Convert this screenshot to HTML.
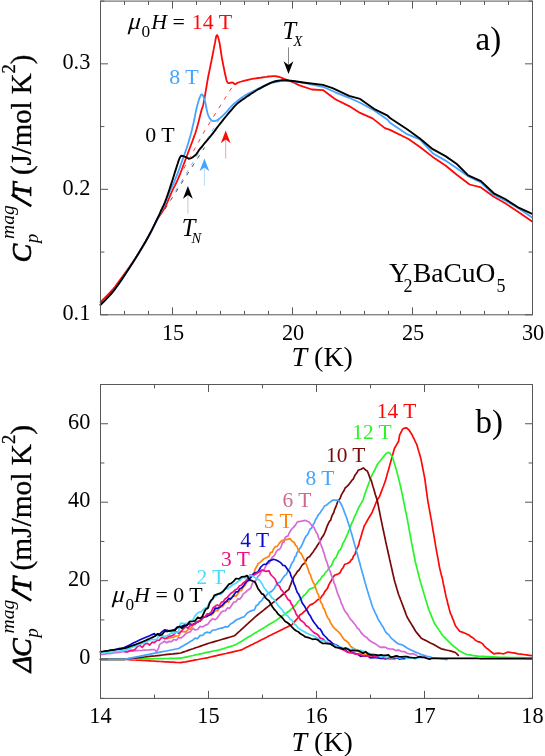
<!DOCTYPE html>
<html><head><meta charset="utf-8"><title>Y2BaCuO5 specific heat</title>
<style>
html,body{margin:0;padding:0;background:#fff;}
body{width:545px;height:756px;overflow:hidden;font-family:"Liberation Serif",serif;}
svg{display:block;will-change:transform;}
</style></head><body>
<svg width="545" height="756" viewBox="0 0 545 756">
<rect width="545" height="756" fill="#ffffff"/>
<path d="M165 209L204.5 147.5" stroke="#222" stroke-width="0.8" stroke-dasharray="4 6" fill="none"/>
<path d="M175.6 190.9L219 119.6" stroke="#44a4ff" stroke-width="0.8" stroke-dasharray="4 6" fill="none"/>
<path d="M183.8 168.7L205 130.2L229.8 90.6L233 86" stroke="#ff0808" stroke-width="0.8" stroke-dasharray="4 6" fill="none"/>
<polyline points="100.5,302.2 102.0,300.7 104.0,298.7 106.5,296.2 109.2,293.4 112.1,290.2 115.0,286.7 118.1,282.6 121.6,277.9 125.3,272.8 128.9,267.7 132.4,262.7 135.4,258.2 138.1,254.1 140.5,250.3 142.7,246.7 144.7,243.2 146.6,239.8 148.5,236.5 150.3,233.3 151.9,230.1 153.4,227.1 154.8,224.2 156.2,221.5 157.6,219.0 158.9,216.8 160.2,214.9 161.4,213.1 162.6,211.4 163.7,209.5 164.9,207.5 166.0,205.2 167.1,202.8 168.2,200.2 169.3,197.6 170.4,195.1 171.5,192.5 172.6,190.1 173.8,187.7 175.0,185.4 176.2,183.0 177.4,180.3 178.7,177.3 180.1,173.9 181.5,170.2 183.0,166.3 184.5,162.3 186.0,158.2 187.5,154.2 189.0,150.2 190.6,146.0 192.2,141.8 193.7,137.6 195.1,133.7 196.3,130.0 197.3,126.5 198.2,123.2 199.0,120.1 199.7,117.2 200.4,114.5 201.0,112.0 201.6,110.0 202.0,108.6 202.5,107.3 202.9,106.0 203.3,104.4 203.8,102.1 204.4,99.1 205.0,95.6 205.6,91.8 206.3,87.8 206.9,83.8 207.6,80.0 208.3,76.2 209.1,72.4 209.9,68.5 210.6,64.8 211.4,61.2 212.0,58.0 212.6,55.1 213.1,52.4 213.6,49.9 214.0,47.6 214.4,45.5 214.8,43.7 215.1,42.2 215.3,40.9 215.5,39.9 215.7,39.0 215.8,38.2 216.0,37.5 216.2,36.8 216.3,36.2 216.5,35.8 216.7,35.4 216.8,35.2 217.0,35.1 217.2,35.2 217.4,35.4 217.6,35.8 217.8,36.2 218.0,36.8 218.2,37.5 218.4,38.2 218.7,39.0 218.9,39.9 219.1,40.9 219.4,42.2 219.7,43.7 220.0,45.6 220.3,47.8 220.7,50.2 221.1,52.8 221.5,55.4 221.9,58.0 222.4,60.7 223.0,63.7 223.6,66.7 224.2,69.6 224.7,72.3 225.2,74.5 225.6,76.2 225.9,77.6 226.2,78.8 226.4,79.7 226.6,80.5 226.9,81.2 227.1,81.8 227.4,82.3 227.6,82.6 227.8,82.8 228.1,83.0 228.5,83.1 229.0,83.1 229.7,83.0 230.4,82.8 231.1,82.6 231.8,82.5 232.4,82.5 232.9,82.7 233.4,83.0 233.8,83.4 234.2,83.8 234.6,84.1 235.1,84.2 235.5,84.1 235.8,83.9 236.2,83.7 236.7,83.3 237.4,82.9 238.4,82.5 239.8,82.0 241.6,81.5 243.7,80.9 245.8,80.3 247.9,79.8 250.0,79.3 252.0,78.9 253.9,78.6 255.9,78.3 257.9,78.0 259.9,77.8 262.0,77.5 264.2,77.2 266.4,76.9 268.7,76.5 270.9,76.3 273.1,76.1 275.2,76.2 277.1,76.5 279.0,76.9 280.8,77.5 282.5,78.2 284.2,78.9 285.9,79.5 295.0,83.2 299.5,85.4 311.9,89.5 322.9,90.1 335.3,99.2 349.1,106.1 360.1,112.9 372.5,118.4 384.9,128.1 390.0,129.9 408.5,139.0 419.9,147.0 432.7,156.9 445.5,165.5 456.8,174.8 469.6,184.5 481.0,187.4 493.8,196.7 505.2,203.3 518.0,211.8 532.2,221.5" fill="none" stroke="#ff0808" stroke-width="1.8" stroke-linejoin="round" stroke-linecap="round" />
<polyline points="100.5,304.9 102.0,303.3 104.1,301.3 106.6,298.7 109.3,295.8 112.3,292.5 115.2,288.8 118.3,284.5 121.8,279.5 125.4,274.0 129.0,268.5 132.4,263.2 135.4,258.5 138.0,254.3 140.4,250.3 142.6,246.6 144.7,243.1 146.6,239.7 148.5,236.3 150.3,233.0 152.0,229.8 153.5,226.6 155.0,223.7 156.3,220.9 157.6,218.4 158.7,216.2 159.6,214.5 160.5,212.9 161.3,211.3 162.1,209.6 163.1,207.5 164.2,205.1 165.3,202.4 166.5,199.5 167.7,196.6 168.9,193.7 170.0,191.0 171.1,188.5 172.1,186.3 173.1,184.1 174.2,181.8 175.3,179.2 176.5,176.2 177.9,172.7 179.3,168.7 180.9,164.5 182.4,160.3 183.9,156.0 185.3,152.0 186.6,148.2 187.8,144.4 188.9,140.7 190.0,137.0 191.0,133.5 191.9,130.0 192.7,126.5 193.5,123.1 194.2,119.7 194.9,116.5 195.4,113.6 196.0,111.0 196.5,108.8 196.9,107.0 197.3,105.4 197.7,104.0 198.0,102.8 198.4,101.5 198.8,100.3 199.1,99.2 199.5,98.1 199.9,97.2 200.2,96.5 200.5,95.8 200.8,95.3 201.0,94.9 201.2,94.6 201.5,94.5 201.7,94.4 201.9,94.4 202.1,94.5 202.4,94.7 202.6,95.0 202.8,95.3 203.0,95.8 203.3,96.3 203.6,96.9 203.8,97.5 204.1,98.2 204.4,99.0 204.7,100.0 205.0,101.3 205.4,102.9 205.8,104.9 206.2,107.0 206.6,109.2 207.1,111.2 207.5,112.9 207.9,114.2 208.3,115.4 208.7,116.4 209.1,117.2 209.5,118.0 210.0,118.7 210.5,119.3 211.0,119.9 211.5,120.4 212.1,120.7 212.6,121.0 213.3,121.1 214.0,121.1 214.8,121.0 215.5,120.8 216.4,120.5 217.3,120.1 218.2,119.5 219.2,118.8 220.3,117.9 221.4,117.0 222.5,115.9 223.7,114.8 224.8,113.7 225.9,112.5 227.0,111.3 228.1,110.0 229.2,108.7 230.3,107.5 231.4,106.3 232.5,105.2 233.5,104.2 234.6,103.3 235.7,102.4 236.8,101.4 238.0,100.5 239.3,99.5 240.6,98.5 242.0,97.5 243.5,96.5 244.9,95.6 246.3,94.7 247.7,93.9 249.0,93.2 250.3,92.6 251.6,92.0 253.0,91.3 254.5,90.6 256.1,89.8 257.7,88.9 259.3,88.0 261.0,87.2 262.7,86.3 264.4,85.6 266.0,84.9 267.7,84.3 269.3,83.7 271.0,83.2 272.6,82.7 274.4,82.3 276.3,81.9 278.2,81.5 280.2,81.2 282.2,81.0 284.1,80.8 285.9,80.7 295.0,81.6 305.0,83.2 322.9,86.8 335.3,92.3 349.1,97.8 360.1,102.8 373.9,110.2 387.6,119.8 390.0,122.8 407.1,134.2 419.9,139.3 432.7,153.2 445.5,160.6 456.8,168.3 468.2,176.3 481.0,182.5 493.8,194.8 505.2,200.4 518.0,208.1 532.2,217.5" fill="none" stroke="#44a4ff" stroke-width="1.8" stroke-linejoin="round" stroke-linecap="round" />
<polyline points="100.5,304.9 102.0,303.3 104.1,301.3 106.6,298.7 109.3,295.8 112.3,292.5 115.2,288.8 118.3,284.5 121.8,279.5 125.4,274.0 129.0,268.5 132.4,263.2 135.4,258.5 138.0,254.3 140.4,250.3 142.6,246.6 144.7,243.1 146.6,239.7 148.5,236.3 150.3,232.9 152.0,229.6 153.6,226.4 155.1,223.3 156.4,220.6 157.6,218.2 158.5,216.3 159.2,214.8 159.8,213.6 160.2,212.5 160.7,211.3 161.3,210.0 162.0,208.6 162.6,207.2 163.3,205.8 164.0,204.3 164.8,202.6 165.6,200.5 166.5,198.0 167.5,195.2 168.5,192.2 169.6,189.0 170.6,185.9 171.6,182.8 172.6,179.7 173.6,176.5 174.6,173.2 175.6,170.1 176.5,167.3 177.2,165.0 177.8,163.2 178.2,161.9 178.6,160.8 178.9,160.0 179.2,159.2 179.5,158.5 179.8,157.8 180.1,157.2 180.4,156.7 180.7,156.3 181.0,156.0 181.5,155.8 182.1,155.8 182.8,156.0 183.6,156.2 184.5,156.6 185.3,156.9 186.0,157.2 186.6,157.5 187.2,157.8 187.8,158.2 188.4,158.5 189.0,158.6 189.7,158.6 190.5,158.4 191.4,158.0 192.4,157.4 193.4,156.8 194.3,156.1 195.2,155.3 196.0,154.5 196.6,153.7 197.3,152.7 198.0,151.7 198.8,150.4 200.0,148.9 201.5,147.1 203.2,145.0 205.1,142.7 207.1,140.4 209.1,138.0 211.0,135.6 212.8,133.3 214.7,130.9 216.5,128.4 218.3,126.0 220.2,123.6 222.0,121.3 223.9,118.9 225.9,116.5 227.8,114.2 229.7,111.9 231.5,109.8 233.0,108.1 234.2,106.7 235.2,105.7 236.0,104.9 236.7,104.1 237.5,103.4 238.5,102.6 239.7,101.7 240.9,100.7 242.3,99.8 243.6,98.9 245.0,98.0 246.2,97.1 247.3,96.3 248.4,95.6 249.4,94.9 250.4,94.2 251.5,93.5 252.8,92.7 254.3,91.8 255.8,90.8 257.5,89.8 259.2,88.8 261.0,87.8 262.8,86.8 264.6,85.8 266.6,84.8 268.5,83.9 270.5,82.9 272.5,82.1 274.4,81.5 276.4,81.0 278.3,80.7 280.3,80.4 282.2,80.3 284.1,80.2 285.9,80.2 295.0,81.3 305.0,82.7 322.9,84.9 332.6,88.2 349.1,95.9 360.1,98.9 373.9,108.8 387.6,115.7 390.0,118.0 407.1,129.3 419.9,138.4 432.7,149.2 445.5,156.1 456.8,164.0 468.2,175.4 481.0,181.1 493.8,193.3 505.2,199.0 518.0,207.3 532.2,213.8" fill="none" stroke="#000000" stroke-width="1.9" stroke-linejoin="round" stroke-linecap="round" />
<rect x="100.5" y="1.1" width="432.0" height="313.7" fill="none" stroke="#585858" stroke-width="1"/>
<path d="M100.50 314.8V310.9M100.50 1.1V5.0M124.50 314.8V310.9M124.50 1.1V5.0M148.50 314.8V310.9M148.50 1.1V5.0M172.50 314.8V307.3M172.50 1.1V8.6M196.50 314.8V310.9M196.50 1.1V5.0M220.50 314.8V310.9M220.50 1.1V5.0M244.50 314.8V310.9M244.50 1.1V5.0M268.50 314.8V310.9M268.50 1.1V5.0M292.50 314.8V307.3M292.50 1.1V8.6M316.50 314.8V310.9M316.50 1.1V5.0M340.50 314.8V310.9M340.50 1.1V5.0M364.50 314.8V310.9M364.50 1.1V5.0M388.50 314.8V310.9M388.50 1.1V5.0M412.50 314.8V307.3M412.50 1.1V8.6M436.50 314.8V310.9M436.50 1.1V5.0M460.50 314.8V310.9M460.50 1.1V5.0M484.50 314.8V310.9M484.50 1.1V5.0M508.50 314.8V310.9M508.50 1.1V5.0M532.50 314.8V307.3M532.50 1.1V8.6" stroke="#585858" stroke-width="1" fill="none"/>
<path d="M100.5 314.80H108.0M532.5 314.80H525.0M100.5 252.06H104.4M532.5 252.06H528.6M100.5 189.32H108.0M532.5 189.32H525.0M100.5 126.58H104.4M532.5 126.58H528.6M100.5 63.84H108.0M532.5 63.84H525.0M100.5 1.10H104.4M532.5 1.10H528.6" stroke="#585858" stroke-width="1" fill="none"/>
<path d="M187.9 194.1V213.6" stroke="#c8c8c8" stroke-width="1" fill="none"/>
<path d="M187.9 186.1L192.8 198.7L187.9 194.9L183.0 198.7Z" fill="#000000"/>
<path d="M204.4 166.6V185.8" stroke="#b9dcff" stroke-width="1" fill="none"/>
<path d="M204.4 158.6L209.3 171.2L204.4 167.4L199.5 171.2Z" fill="#44a4ff"/>
<path d="M225.7 138.6V158.6" stroke="#ff9a9a" stroke-width="1" fill="none"/>
<path d="M225.7 130.6L230.6 143.2L225.7 139.4L220.8 143.2Z" fill="#ff0808"/>
<path d="M288.5 65.9V47.4" stroke="#8a8a8a" stroke-width="1" fill="none"/>
<path d="M288.5 73.9L293.4 61.3L288.5 65.1L283.6 61.3Z" fill="#000000"/>
<text x="173.1" y="340.2" font-size="22.3" fill="#000" text-anchor="middle" font-family="Liberation Serif, serif" >15</text>
<text x="293.1" y="340.2" font-size="22.3" fill="#000" text-anchor="middle" font-family="Liberation Serif, serif" >20</text>
<text x="413.1" y="340.2" font-size="22.3" fill="#000" text-anchor="middle" font-family="Liberation Serif, serif" >25</text>
<text x="533.1" y="340.2" font-size="22.3" fill="#000" text-anchor="middle" font-family="Liberation Serif, serif" >30</text>
<text x="90.3" y="320.0" font-size="22.3" fill="#000" text-anchor="end" font-family="Liberation Serif, serif" >0.1</text>
<text x="90.3" y="194.5" font-size="22.3" fill="#000" text-anchor="end" font-family="Liberation Serif, serif" >0.2</text>
<text x="90.3" y="69.0" font-size="22.3" fill="#000" text-anchor="end" font-family="Liberation Serif, serif" >0.3</text>
<text x="291.5" y="366.2" font-size="28" fill="#000" text-anchor="start" font-family="Liberation Serif, serif" ><tspan font-style="italic">T</tspan> (K)</text>
<g transform="translate(31.0,262.0) rotate(-90)" font-family="Liberation Serif, serif"><text x="-0.5" y="0" font-size="28" font-style="italic" stroke="#000" stroke-width="0.75">C</text><text x="19.1" y="6.7" font-size="18.5" font-style="italic">p</text><text x="23" y="-17" font-size="19.6" font-style="italic">mag</text><path d="M55.9 0.3L67.3 -19.3" stroke="#000" stroke-width="2.6" fill="none"/><text x="63.8" y="0" font-size="28" font-style="italic" stroke="#000" stroke-width="0.75">T</text><text x="87.0" y="0" font-size="28.8" stroke="#000" stroke-width="0.3">(J/mol K<tspan font-size="18.5" dy="-16.5">2</tspan><tspan dy="16.5">)</tspan></text></g>
<text transform="translate(126.9,28.8) skewX(-15)" font-size="24" font-family="Liberation Serif, serif">&#956;</text>
<text x="141.5" y="36.7" font-size="17.3" fill="#000" text-anchor="start" font-family="Liberation Serif, serif" >0</text>
<text x="151.3" y="28.8" font-size="21.9" fill="#000" text-anchor="start" font-family="Liberation Serif, serif" ><tspan font-style="italic">H</tspan> = <tspan fill="#ff0808" dx="1.4">14 T</tspan></text>
<text x="169.3" y="84.4" font-size="21.9" fill="#44a4ff" text-anchor="start" font-family="Liberation Serif, serif" >8 T</text>
<text x="145.2" y="141.7" font-size="21.9" fill="#000" text-anchor="start" font-family="Liberation Serif, serif" >0 T</text>
<text x="282.6" y="38.8" font-size="24.5" fill="#000" text-anchor="start" font-family="Liberation Serif, serif" font-style="italic">T</text>
<text x="293.4" y="45.8" font-size="14.5" fill="#000" text-anchor="start" font-family="Liberation Serif, serif" font-style="italic">X</text>
<text x="181.8" y="236.2" font-size="24.5" fill="#000" text-anchor="start" font-family="Liberation Serif, serif" font-style="italic">T</text>
<text x="191.4" y="243.3" font-size="14.5" fill="#000" text-anchor="start" font-family="Liberation Serif, serif" font-style="italic">N</text>
<text x="475.5" y="50.0" font-size="33" fill="#000" text-anchor="start" font-family="Liberation Serif, serif" >a)</text>
<text x="389.0" y="281.8" font-size="27.5" fill="#000" text-anchor="start" font-family="Liberation Serif, serif" >Y</text>
<text x="403.4" y="292.3" font-size="18" fill="#000" text-anchor="start" font-family="Liberation Serif, serif" >2</text>
<text x="412.9" y="281.8" font-size="27.5" fill="#000" text-anchor="start" font-family="Liberation Serif, serif" >BaCuO</text>
<text x="496.5" y="292.3" font-size="18" fill="#000" text-anchor="start" font-family="Liberation Serif, serif" >5</text>
<polyline points="100.5,659.3 103.1,659.3 105.8,659.3 108.4,659.3 111.0,659.3 113.7,659.3 116.3,659.3 118.9,659.3 121.6,659.3 124.2,659.3 126.8,659.5 129.3,659.6 131.9,659.8 134.5,659.9 137.0,660.1 139.6,660.2 142.2,660.4 144.7,660.5 147.3,660.7 149.9,660.8 152.4,661.0 155.0,661.2 157.6,661.3 160.2,661.5 162.7,661.6 165.3,661.8 167.9,661.9 170.4,662.1 173.0,662.2 175.6,662.4 178.1,662.5 180.7,662.7 183.2,662.2 185.7,661.8 188.1,661.3 190.6,660.8 193.1,660.4 195.6,659.9 198.1,659.5 200.6,659.0 203.0,658.5 205.5,658.1 208.0,657.6 210.6,657.0 213.1,656.4 215.7,655.8 218.3,655.2 220.8,654.6 223.4,654.0 226.0,653.5 228.6,652.9 231.1,652.3 233.7,651.7 236.3,651.1 238.8,650.5 241.4,649.9 243.7,648.8 246.0,647.6 248.3,646.5 250.5,645.3 252.8,644.2 255.1,643.0 257.4,641.9 259.7,640.7 262.0,639.6 264.3,638.4 266.6,637.3 268.8,636.1 271.1,635.0 273.4,633.8 275.7,632.7 278.0,631.6 280.3,630.4 282.6,629.3 285.0,628.1 287.3,627.0 289.6,625.8 291.9,624.7 293.9,622.4 296.0,620.0 298.1,617.7 300.1,614.8 302.1,613.7 304.1,611.6 306.2,610.0 308.2,607.0 310.2,604.9 312.7,603.9 315.2,602.1 317.8,599.7 320.3,598.6 321.8,596.1 323.3,594.7 324.8,591.6 326.3,589.8 327.5,588.4 328.7,585.1 330.0,582.6 331.2,581.0 332.4,578.3 334.5,575.3 337.1,574.4 339.8,573.1 341.5,569.6 343.1,567.7 344.8,564.2 347.4,563.5 349.9,562.0 351.1,560.0 352.4,559.0 353.6,555.8 354.9,554.5 355.9,551.0 356.9,548.7 358.0,546.6 359.0,543.7 359.7,540.3 360.5,538.5 361.2,536.0 361.9,533.6 362.6,531.1 363.4,528.7 364.1,526.2 365.5,523.9 366.8,521.5 368.1,519.2 369.5,516.8 370.9,514.5 372.2,512.1 373.2,509.7 374.2,507.3 375.2,504.8 376.2,502.4 377.2,500.0 379.4,496.8 380.4,494.1 381.4,491.4 382.4,488.7 383.5,486.0 384.5,483.3 385.5,480.6 386.2,478.0 386.9,475.4 387.6,472.8 388.4,470.3 389.1,467.7 389.8,465.1 390.5,462.5 391.3,459.7 392.1,456.8 392.9,454.0 393.7,451.1 394.5,448.3 395.9,446.0 397.2,443.6 398.6,441.3 399.1,438.2 399.6,435.2 401.1,432.2 402.6,429.2 404.5,428.1 406.6,427.8 409.0,430.0 411.7,434.2 412.9,436.7 414.2,439.2 415.4,441.8 416.7,444.3 417.5,447.1 418.3,449.9 419.2,452.8 420.0,455.6 420.8,458.4 421.3,460.9 421.8,463.4 422.3,466.0 422.8,468.5 423.3,471.0 423.8,473.6 424.3,476.1 424.8,478.6 425.2,481.3 425.5,484.0 425.9,486.6 426.2,489.3 426.6,492.0 427.0,494.6 427.3,497.3 427.7,500.0 428.1,502.5 428.6,504.9 429.0,507.4 429.5,509.9 429.9,512.3 430.4,514.8 430.8,517.3 431.3,519.7 431.7,522.2 432.1,524.9 432.6,527.6 433.0,530.3 433.5,533.0 433.9,535.6 434.4,538.3 434.8,541.0 435.3,543.7 435.7,546.4 436.2,548.9 436.6,551.3 437.1,553.8 437.5,556.3 438.0,558.7 438.4,561.2 438.9,563.7 439.3,566.1 439.8,568.6 440.5,571.5 441.2,574.4 441.9,576.8 442.6,579.6 443.2,583.2 443.8,585.7 444.3,588.2 444.9,591.3 445.5,593.9 446.1,596.9 446.7,599.1 447.3,601.1 447.9,604.3 448.5,606.0 449.1,608.6 449.7,610.8 450.6,613.9 451.6,615.6 452.5,618.4 453.5,620.4 454.4,623.1 455.4,625.7 457.5,628.4 459.7,631.2 462.1,632.1 464.4,633.0 466.8,634.1 468.9,635.0 471.1,636.8 473.2,638.0 475.3,640.1 477.7,641.6 480.0,642.1 482.4,643.6 484.3,646.1 486.2,647.9 488.1,649.2 491.0,651.8 493.8,653.8 496.3,653.3 498.8,653.2 501.3,653.5 503.8,653.8 508.0,652.0 511.6,652.6 515.1,653.1 518.0,653.9 520.8,654.2 523.7,654.5 526.5,654.9 529.4,655.3 532.2,655.7" fill="none" stroke="#ff0808" stroke-width="1.7" stroke-linejoin="round" stroke-linecap="round" />
<polyline points="100.5,659.3 103.1,659.3 105.8,659.3 108.4,659.3 111.0,659.3 113.7,659.3 116.3,659.3 118.9,659.3 121.6,659.3 124.2,659.3 126.8,659.2 129.3,659.2 131.9,659.1 134.5,659.1 137.0,659.0 139.6,659.0 142.2,658.9 144.7,658.9 147.3,658.9 149.9,658.8 152.4,658.8 155.0,658.7 157.6,658.6 160.2,658.6 162.7,658.6 165.3,658.5 167.9,658.5 170.4,658.4 173.0,658.4 175.6,658.3 178.1,658.2 180.7,658.2 183.2,657.7 185.7,657.1 188.1,656.6 190.6,656.0 193.1,655.5 195.6,654.9 198.1,654.4 200.6,653.8 203.0,653.3 205.5,652.7 208.0,652.2 210.8,651.6 213.6,651.0 216.4,650.5 219.2,649.9 221.9,649.1 224.6,648.2 227.3,647.4 230.0,646.6 232.7,645.7 235.4,644.9 237.6,643.5 239.9,642.2 242.1,640.9 244.4,639.5 246.6,638.1 248.8,636.8 251.1,635.5 253.3,634.1 255.6,632.8 257.8,631.4 260.0,630.0 262.3,628.7 264.5,627.4 266.7,626.0 269.0,624.6 271.2,623.3 273.5,622.0 275.7,620.6 278.1,618.9 280.4,617.2 282.8,615.5 285.2,613.9 287.5,612.2 289.9,610.5 291.9,608.4 294.0,606.7 296.0,604.6 298.1,601.8 300.1,599.5 301.9,597.9 303.7,595.5 305.6,594.1 307.4,591.7 309.2,589.4 311.7,588.3 314.2,587.5 315.7,584.6 317.2,583.1 318.8,580.6 320.3,579.7 322.1,576.3 323.8,575.4 325.6,572.1 327.1,571.1 328.6,568.5 330.2,566.6 331.7,565.3 333.1,561.4 334.5,558.8 336.0,557.5 337.4,554.3 338.8,550.9 340.2,549.8 341.6,547.1 343.0,543.1 344.4,541.0 345.8,537.9 346.8,535.7 347.8,533.6 348.8,530.4 349.9,528.7 350.9,525.2 351.9,522.8 352.9,521.3 353.9,518.1 355.2,515.3 356.4,512.8 357.7,509.8 359.0,506.8 360.4,504.7 361.7,502.3 363.1,500.0 363.8,497.6 364.6,495.1 365.3,492.7 366.3,490.0 367.3,487.3 368.3,484.6 369.3,482.0 370.3,479.3 371.3,476.6 372.5,474.2 373.7,471.8 375.0,469.3 376.2,466.9 377.4,464.5 379.1,462.2 380.9,459.9 382.6,457.7 384.4,455.4 386.8,453.0 388.5,452.4 390.5,453.8 392.5,457.4 393.3,460.0 394.1,462.6 395.0,465.3 395.8,467.9 396.6,470.5 397.3,473.2 397.9,475.9 398.6,478.6 399.3,481.3 399.9,484.0 400.6,486.7 401.2,489.4 401.7,492.0 402.3,494.7 402.8,497.3 403.4,500.0 403.9,502.5 404.4,505.1 404.9,507.6 405.4,510.1 406.0,512.6 406.5,515.2 407.0,517.7 407.5,520.2 407.9,522.7 408.4,525.1 408.8,527.6 409.3,530.1 409.7,532.5 410.2,535.0 410.6,537.5 411.1,539.9 411.5,542.4 412.0,544.9 412.5,547.5 413.0,550.0 413.5,552.5 414.0,555.0 414.5,557.5 415.0,560.1 415.5,562.6 416.1,565.1 416.8,567.6 417.4,570.1 418.0,572.5 418.6,575.0 419.3,577.5 419.9,580.0 420.7,582.8 421.6,585.7 422.4,588.5 423.3,591.4 424.1,594.2 425.0,597.0 425.8,599.9 426.7,602.7 427.5,605.6 428.4,608.4 429.3,610.8 430.3,613.2 431.2,615.5 432.2,617.9 433.2,620.3 434.1,622.7 435.5,624.8 436.9,627.0 438.4,629.1 439.8,631.2 441.2,633.4 442.6,635.5 444.7,637.6 446.9,639.8 449.0,641.9 451.1,644.0 453.2,645.8 455.4,647.5 457.6,649.3 459.7,651.1 462.1,652.2 464.4,653.4 466.8,654.5 469.6,654.9 472.5,655.4 475.4,655.8 478.2,656.2 480.8,656.3 483.3,656.4 485.9,656.6 488.4,656.7 491.0,656.8 493.6,656.9 496.1,657.0 498.7,657.2 501.2,657.3 503.8,657.4 506.4,657.4 509.0,657.5 511.5,657.5 514.1,657.6 516.7,657.6 519.3,657.7 521.9,657.7 524.5,657.8 527.0,657.8 529.6,657.9 532.2,657.9" fill="none" stroke="#28f528" stroke-width="1.7" stroke-linejoin="round" stroke-linecap="round" />
<polyline points="100.5,659.3 103.1,659.3 105.8,659.3 108.4,659.3 111.0,659.3 113.7,659.3 116.3,659.3 118.9,659.3 121.6,659.3 124.2,659.3 126.8,659.0 129.3,658.7 131.9,658.4 134.5,658.2 137.0,657.9 139.6,657.6 142.2,657.3 144.7,657.0 147.3,656.7 149.9,656.4 152.4,656.1 155.0,655.9 157.6,655.6 160.2,655.3 162.7,655.0 165.3,654.7 167.9,654.4 170.4,654.1 173.0,653.9 175.6,653.6 178.1,653.3 180.7,653.0 183.2,652.1 185.7,651.3 188.1,650.4 190.6,649.5 193.1,648.7 195.6,647.8 198.1,647.0 200.6,646.1 203.0,645.2 205.5,644.4 208.0,643.5 210.4,642.8 212.8,642.1 215.2,641.4 217.6,640.7 220.0,640.0 222.4,639.3 224.8,638.6 227.2,637.9 229.6,637.2 232.0,636.5 234.4,635.8 236.3,634.1 238.2,632.3 240.2,630.6 242.1,628.8 244.0,627.1 245.9,625.3 247.8,623.6 249.7,621.8 251.7,620.1 253.6,618.3 255.5,616.6 257.5,615.0 259.5,613.4 261.6,611.8 263.6,610.2 265.6,608.5 267.6,606.9 269.6,605.3 271.7,603.7 273.7,602.1 275.7,600.5 277.9,598.6 280.1,596.8 282.2,595.0 284.4,593.1 286.6,591.2 288.8,589.5 289.8,586.6 290.9,584.2 291.9,580.9 293.0,579.2 294.0,576.5 295.7,574.2 297.4,571.5 299.1,570.0 300.7,567.4 302.3,564.9 303.9,563.7 305.5,561.5 307.5,557.7 309.5,556.7 311.5,554.0 313.5,551.4 314.9,549.1 316.2,547.5 317.6,545.0 318.9,543.2 320.2,540.9 321.6,537.9 322.7,536.5 323.9,534.5 325.0,532.1 326.1,529.1 327.3,525.8 328.4,523.4 329.6,521.2 330.7,520.1 331.7,516.6 332.7,514.3 333.7,512.7 334.7,509.3 335.7,507.2 336.7,504.6 337.7,501.5 338.9,500.1 340.2,498.3 341.4,494.9 342.6,492.8 343.9,490.8 345.1,488.0 346.7,486.7 348.3,485.2 350.0,482.9 351.6,480.7 353.2,479.2 354.9,475.3 356.5,473.3 358.2,470.3 361.0,469.2 363.3,467.9 365.5,469.9 367.3,471.0 368.6,474.1 370.0,478.1 371.3,480.6 372.1,483.4 372.9,486.3 373.8,489.1 374.6,492.0 375.4,494.8 376.3,497.4 377.2,500.0 377.7,502.5 378.2,505.1 378.7,507.6 379.2,510.1 379.7,512.6 380.2,515.2 380.7,517.7 381.2,520.2 381.8,522.9 382.3,525.6 382.9,528.3 383.5,531.0 384.0,533.6 384.6,536.3 385.2,539.0 385.7,541.7 386.3,544.4 386.9,546.9 387.4,549.3 388.0,551.8 388.5,554.3 389.1,556.7 389.6,559.2 390.2,561.7 390.7,564.1 391.3,566.6 391.9,569.3 392.5,572.0 393.1,574.6 393.7,577.3 394.3,580.0 395.1,582.8 396.0,585.7 396.8,588.5 397.7,591.4 398.5,594.2 399.5,596.7 400.4,599.3 401.4,601.8 402.3,604.3 403.3,606.9 404.2,609.4 405.2,611.9 406.1,614.5 407.1,617.0 408.5,619.4 409.9,621.7 411.4,624.1 412.8,626.5 414.2,628.8 415.6,631.2 417.5,633.6 419.4,635.9 421.3,638.3 423.6,639.4 425.9,640.6 428.1,641.7 430.4,642.9 432.7,644.0 435.5,645.6 438.4,647.2 441.2,648.8 443.7,649.4 446.1,650.0 448.6,650.5 451.1,651.1 455.4,652.5 458.3,655.4" fill="none" stroke="#7a0808" stroke-width="1.7" stroke-linejoin="round" stroke-linecap="round" />
<polyline points="100.5,659.3 103.1,659.3 105.8,659.3 108.4,659.3 111.0,659.3 113.7,659.3 116.3,659.3 118.9,659.3 121.6,659.3 124.2,659.3 126.7,658.8 129.2,658.3 131.6,657.8 134.1,657.3 136.6,656.8 139.1,656.4 141.5,655.9 144.0,655.4 146.5,654.9 149.0,654.4 151.4,653.9 153.9,653.4 156.4,652.9 158.9,652.4 161.4,651.9 163.8,651.4 166.3,651.0 168.8,650.5 171.3,650.0 173.7,649.5 176.2,649.0 178.7,648.5 181.0,647.1 183.4,645.7 185.7,644.3 188.0,643.0 190.3,641.6 192.7,640.2 195.0,638.1 197.5,638.7 200.1,635.4 202.6,635.5 205.1,632.8 207.6,632.2 210.1,632.9 212.7,630.0 215.2,630.0 217.7,629.0 220.2,628.4 222.8,627.9 225.3,626.6 227.9,626.9 230.5,624.0 233.2,622.5 236.0,620.0 238.8,618.9 241.5,617.6 244.2,616.7 247.0,613.3 249.8,611.4 252.5,610.4 254.3,610.0 256.2,605.6 258.0,604.8 259.8,602.0 261.7,600.6 263.5,597.6 265.3,596.6 267.2,594.3 269.0,592.8 271.8,591.2 274.5,588.2 276.3,584.9 278.2,582.6 280.0,582.5 282.5,578.6 285.0,575.2 286.3,574.8 287.5,571.6 288.8,569.8 290.0,567.9 291.3,564.3 292.5,562.1 293.6,561.1 294.8,557.0 295.9,556.2 297.1,552.3 298.2,551.4 299.4,549.1 300.8,547.3 302.1,544.7 303.4,541.6 304.8,538.5 306.1,536.0 307.5,534.6 308.8,532.2 310.2,528.8 311.5,528.4 312.8,525.1 314.2,523.2 315.5,519.7 317.0,517.4 318.5,514.5 320.1,512.9 321.6,510.4 323.1,508.4 324.6,505.9 326.8,504.9 329.0,502.9 332.7,500.2 335.2,500.2 337.7,500.2 339.8,502.0 341.8,505.2 342.8,507.8 343.8,510.4 344.8,513.1 345.8,515.7 346.8,518.3 347.6,521.0 348.5,523.7 349.4,526.4 350.2,529.1 351.0,531.8 351.9,534.5 352.6,537.1 353.3,539.7 354.0,542.3 354.8,544.9 355.5,547.5 356.2,550.1 356.9,552.7 357.6,555.2 358.2,557.6 358.9,560.1 359.6,562.6 360.3,565.1 360.9,567.5 361.6,570.0 362.3,572.6 363.1,575.2 363.8,577.8 364.5,580.4 365.2,583.0 366.0,585.6 366.7,588.2 367.4,590.6 368.2,593.0 368.9,595.4 369.7,597.8 370.4,600.1 371.2,602.5 371.9,604.9 372.7,607.3 373.9,609.9 375.1,612.6 376.4,615.2 377.6,617.9 378.8,620.5 380.3,622.6 381.9,625.4 383.4,627.6 384.9,630.7 386.9,633.4 388.9,634.9 390.9,637.9 393.3,639.9 395.7,642.0 398.5,644.0 401.4,644.6 404.2,646.0 407.1,648.0 409.9,649.4 412.7,650.8 415.6,652.1 418.4,653.3 421.3,654.6 424.1,655.4 427.0,656.3 429.5,656.7 432.0,657.5 434.5,657.9 436.9,658.2 439.4,658.5 441.9,658.9 444.4,659.2 446.9,659.6" fill="none" stroke="#44a4ff" stroke-width="1.7" stroke-linejoin="round" stroke-linecap="round" />
<polyline points="100.5,654.6 103.1,654.3 105.8,653.9 108.4,653.6 111.0,653.3 113.7,652.9 116.3,652.6 118.9,652.3 121.6,651.9 124.2,651.6 126.7,651.4 129.2,651.2 131.8,651.1 134.3,650.9 136.8,650.7 139.3,650.5 141.9,650.4 144.4,650.2 146.9,650.0 149.4,649.9 152.0,649.7 154.5,649.5 156.5,651.6 157.5,650.3 158.6,648.0 159.6,644.4 162.0,642.9 164.4,641.2 166.8,642.8 169.1,641.3 171.5,641.6 173.9,639.5 176.3,640.1 178.7,637.6 181.1,638.0 183.4,636.2 185.8,633.6 188.2,632.5 190.5,631.6 192.9,628.3 195.0,629.9 197.5,629.5 200.1,626.4 202.6,627.0 205.1,625.4 207.6,624.4 210.1,621.1 212.7,618.7 215.2,619.7 217.2,618.1 219.2,615.2 221.3,612.3 223.3,611.0 225.3,611.0 227.4,607.9 229.6,608.4 231.7,605.2 233.9,602.0 236.0,601.8 237.8,598.9 239.7,599.1 241.5,597.2 243.3,593.9 245.2,592.6 247.0,590.9 248.8,589.5 250.7,588.2 252.5,583.0 254.3,581.6 256.2,579.9 258.0,576.3 259.8,574.8 261.7,570.4 263.5,570.7 265.3,567.2 267.2,563.5 269.0,563.3 270.8,559.6 272.7,556.8 274.5,555.4 276.2,551.8 277.9,549.7 279.5,549.7 281.2,546.7 282.6,542.0 283.9,542.5 285.2,537.5 286.6,536.4 287.9,536.2 289.3,532.9 291.3,529.5 293.4,527.4 295.4,525.1 297.4,521.9 301.5,521.2 305.5,520.4 309.0,522.0 312.5,526.2 313.8,527.0 315.1,529.8 316.3,532.6 317.6,534.3 318.6,538.1 319.6,539.7 320.6,543.7 321.6,546.4 322.6,548.9 323.5,551.9 324.3,553.9 325.1,557.2 326.0,559.9 326.9,562.1 327.7,564.8 328.5,567.7 329.4,569.9 330.4,571.9 331.4,575.4 332.4,577.2 333.4,580.1 334.1,583.1 334.9,584.6 335.6,586.9 336.4,589.6 337.4,592.9 338.4,595.1 339.4,597.6 340.5,600.5 341.5,603.8 342.5,605.3 343.5,608.2 344.9,611.1 346.3,612.9 347.7,614.6 349.1,617.1 350.5,619.4 352.2,620.9 353.9,623.3 355.6,625.2 357.2,628.0 358.9,629.3 360.6,631.9 362.6,634.4 364.6,636.3 366.7,637.4 368.7,639.8 370.7,641.3 373.2,642.7 375.8,644.1 378.3,645.9 380.8,647.4 383.3,647.1 385.9,647.4 388.4,648.9 390.9,649.0 393.4,649.2 396.0,650.7 398.5,649.9 401.4,651.5 404.2,651.6 407.1,653.2 409.9,654.0 412.8,653.6 415.6,654.8 418.4,656.9 421.3,656.8 424.2,657.4 427.1,657.9 430.0,658.5" fill="none" stroke="#d66ad6" stroke-width="1.7" stroke-linejoin="round" stroke-linecap="round" />
<polyline points="164.6,638.8 167.4,638.4 170.2,637.7 173.1,637.4 175.9,636.0 178.7,635.8 181.1,631.5 183.4,631.6 185.8,631.8 188.2,629.5 190.5,628.9 192.9,625.1 195.0,623.6 197.2,621.5 199.5,621.1 201.7,619.9 204.0,616.7 206.2,616.0 208.5,614.9 210.7,615.5 213.0,613.7 215.2,610.4 217.6,610.7 220.1,606.8 222.6,606.6 225.0,603.3 226.8,601.1 228.7,602.0 230.5,598.1 233.2,595.9 236.0,596.1 237.8,594.0 239.7,590.3 241.5,590.6 243.3,587.0 245.2,585.3 247.0,581.6 248.8,581.2 250.7,577.6 252.5,575.8 253.9,573.2 255.2,569.0 256.6,566.8 258.0,563.8 260.8,561.6 263.5,559.1 266.2,557.7 269.0,556.4 270.6,552.3 272.1,552.3 273.6,549.0 275.2,546.7 277.2,546.4 279.2,543.4 281.2,541.0 284.0,539.7 286.3,539.6 290.0,538.6 292.2,541.3 294.4,542.6 295.6,545.6 296.9,546.3 298.1,549.7 299.4,552.2 301.4,553.9 303.4,558.2 304.4,559.9 305.3,562.7 306.3,564.3 307.2,566.8 308.2,569.5 309.2,573.1 310.2,574.2 311.2,577.5 312.2,580.1 313.2,582.5 314.2,583.9 315.2,586.6 316.2,589.5 317.2,592.6 318.3,594.3 319.3,598.0 320.3,600.8 321.3,603.2 322.3,604.3 323.3,608.1 324.3,609.0 325.3,611.8 326.3,614.6 327.7,617.7 329.1,619.4 330.6,622.9 332.0,625.0 333.4,627.2 335.2,629.0 336.9,630.5 338.7,632.2 340.5,634.0 342.5,637.2 344.5,640.1 346.5,641.1 348.5,642.9 350.6,646.4 352.6,647.8 355.3,649.2 357.9,650.6 360.6,652.9 363.1,654.0 365.6,654.2 368.2,654.9 370.7,655.1 373.2,657.0 375.8,656.1 378.3,657.3 380.8,658.3 383.6,657.4 386.5,658.6 389.3,659.1 392.2,658.8 395.0,659.3" fill="none" stroke="#ff840c" stroke-width="1.7" stroke-linejoin="round" stroke-linecap="round" />
<polyline points="100.5,652.6 103.1,652.0 105.8,651.5 108.4,650.9 111.0,650.4 113.7,649.8 116.3,649.3 118.9,648.7 121.6,648.2 124.2,647.6 126.5,646.5 128.7,645.4 131.0,644.3 133.2,643.1 135.5,642.0 137.7,640.9 140.0,639.8 142.4,638.8 144.8,637.7 147.2,636.7 149.7,635.7 152.1,634.6 154.5,633.6 155.5,635.6 157.8,633.8 160.2,633.5 162.5,631.4 164.8,629.8 167.3,630.3 169.7,631.3 172.2,630.4 174.7,629.6 177.1,627.3 179.6,627.7 182.1,626.1 184.6,625.1 187.0,624.1 189.5,623.7 192.3,624.8 195.0,623.3 197.8,622.0 200.0,621.0 202.6,617.8 205.1,617.0 207.1,616.4 209.1,615.1 211.2,613.9 213.2,612.3 215.2,608.2 217.6,608.3 220.1,606.9 222.6,604.8 225.0,602.2 226.8,601.3 228.7,598.3 230.5,599.2 232.3,597.2 234.2,594.4 236.0,591.8 237.8,591.9 239.7,589.0 241.5,588.1 243.3,586.2 245.2,583.3 247.0,581.1 248.8,579.9 250.7,577.5 252.5,574.8 255.2,572.8 258.0,572.0 260.8,567.0 263.5,564.5 266.2,564.2 269.0,560.9 271.5,560.1 273.4,559.3 276.0,560.0 279.0,561.6 281.0,562.9 283.0,565.5 285.0,565.7 287.8,569.7 290.0,572.5 291.0,575.9 292.0,578.0 293.1,580.9 294.1,584.2 295.1,586.2 296.1,589.3 297.3,592.5 298.5,593.8 299.7,596.4 300.9,599.2 302.1,602.7 303.5,604.8 304.8,606.6 306.1,609.1 307.5,611.2 308.9,614.0 310.2,615.7 311.8,618.9 313.4,621.5 315.1,623.8 316.7,625.7 318.3,628.2 319.9,628.7 321.5,631.2 323.1,634.3 324.7,636.0 326.3,637.5 328.3,640.1 330.4,641.3 332.4,643.4 334.4,644.4 337.1,645.5 339.8,647.3 342.5,648.1 345.2,649.8 347.8,652.1 350.5,652.4 353.0,652.7 355.6,653.5 358.1,654.5 360.6,656.3 363.1,655.9 365.6,656.2 368.2,656.2 370.7,658.0 373.2,657.6 375.8,657.7 378.3,658.0 380.8,658.5 383.3,658.3 385.9,658.8 388.4,657.6 390.9,657.1 393.7,657.9 396.5,657.7 399.4,659.1 402.2,658.4 405.0,658.6" fill="none" stroke="#0a0acd" stroke-width="1.7" stroke-linejoin="round" stroke-linecap="round" />
<polyline points="125.2,651.9 127.6,652.0 130.1,650.4 132.5,650.3 135.0,649.5 137.4,646.5 139.8,645.3 142.3,647.4 144.7,644.3 147.2,643.3 149.6,645.1 152.1,642.2 154.5,642.6 156.9,640.4 159.3,640.1 161.8,637.4 164.2,638.3 166.6,638.2 169.0,636.1 171.4,636.0 173.9,634.8 176.3,631.7 178.7,633.3 181.0,631.3 183.4,628.9 185.7,626.6 188.0,628.2 190.3,625.4 192.7,624.9 195.0,624.1 197.5,621.7 200.1,620.7 202.6,617.0 205.1,616.7 207.1,613.8 209.1,613.9 211.2,612.1 213.2,607.7 215.2,606.2 217.2,604.9 219.2,605.9 221.3,602.4 223.3,601.5 225.3,598.7 227.3,597.4 229.3,595.0 231.4,592.9 233.4,591.7 235.4,589.7 237.4,588.8 239.4,586.0 241.5,584.9 243.5,582.6 245.5,581.1 247.9,578.3 250.2,574.8 252.6,575.7 255.0,574.5 259.0,572.1 262.1,570.0 266.0,571.4 269.1,570.8 270.6,574.4 272.1,576.0 273.7,577.5 275.2,579.2 276.6,582.7 278.1,585.2 279.5,586.0 280.9,589.4 282.4,591.0 283.8,592.8 285.4,595.0 286.9,597.8 288.4,599.9 290.0,600.6 291.2,603.9 292.4,605.4 293.7,608.9 294.9,610.7 296.1,614.0 297.6,616.2 299.1,617.5 300.6,620.3 302.1,621.2 304.1,622.8 306.1,625.7 308.2,626.8 310.2,629.0 312.2,631.0 314.2,632.9 316.3,633.8 318.3,635.2 320.3,638.2 322.8,638.8 325.4,641.4 327.9,642.8 330.4,643.5 332.9,644.9 335.4,646.2 338.0,647.7 340.5,648.9 343.0,649.8 345.5,650.9 348.0,652.4 350.5,652.7 353.0,653.1 355.6,654.1 358.1,653.9 360.6,654.5 363.1,656.0 365.6,655.6 368.2,656.1 370.7,655.6 373.6,656.5 376.4,657.0 379.3,656.4 382.1,657.5 385.0,657.8" fill="none" stroke="#f0107f" stroke-width="1.7" stroke-linejoin="round" stroke-linecap="round" />
<polyline points="100.5,653.0 103.1,652.7 105.8,652.4 108.4,652.2 111.0,651.9 113.7,651.6 116.3,651.3 118.9,651.1 121.6,650.8 124.2,650.5 126.5,649.6 128.9,648.6 131.2,647.7 133.5,646.8 135.9,645.8 138.2,644.9 140.5,644.0 142.8,643.1 145.2,642.1 147.5,641.2 149.8,640.3 152.2,639.3 154.5,639.9 156.9,639.1 159.3,635.6 161.8,635.0 164.2,636.7 166.6,635.7 169.0,634.7 171.4,632.9 173.9,633.1 176.3,632.4 178.7,631.7 179.4,627.6 180.0,625.8 180.7,623.0 183.1,623.4 185.6,623.7 188.0,622.9 190.5,621.0 192.9,620.1 195.0,615.9 197.0,613.6 199.1,612.0 201.1,611.9 203.1,609.9 204.8,608.2 206.6,608.0 208.3,605.0 210.0,603.2 211.7,600.3 213.5,597.7 215.2,596.8 217.2,594.6 219.2,594.2 221.3,594.1 223.3,591.5 225.3,588.3 227.8,588.8 230.4,586.7 232.9,584.8 235.4,583.6 237.9,581.5 240.5,580.0 243.0,577.0 245.2,577.9 247.5,576.7 250.5,575.2 253.5,576.6 256.6,578.6 259.6,580.2 261.1,582.6 262.6,584.8 264.1,587.8 265.6,589.4 267.3,591.9 269.0,593.2 270.6,596.1 272.3,598.1 274.0,599.4 275.7,601.6 277.3,604.4 278.9,606.3 280.6,608.1 282.2,609.9 283.8,612.3 285.9,614.9 287.9,615.9 290.0,619.1 292.0,620.4 294.1,623.8 296.1,625.2 298.1,627.9 300.1,629.2 302.1,630.5 304.8,631.9 307.5,633.5 310.2,634.7 312.7,635.5 315.2,636.6 317.8,638.4 320.3,640.3 322.8,640.8 325.4,641.0 327.9,643.2 330.4,644.1 332.9,645.4 335.4,645.2 338.0,647.1 340.5,647.0 343.0,648.3 345.5,648.1 348.0,648.4 350.6,649.8 353.1,648.9 355.6,650.0 358.1,650.9 360.6,650.3 363.1,651.0 365.6,652.9 368.2,652.9 370.7,654.1 373.2,653.8 375.8,655.1 378.3,655.5 380.8,657.1 383.5,656.3 386.3,657.8 389.0,656.5 391.8,657.7 394.5,656.7 397.3,657.3 400.0,658.3 402.5,657.3 405.0,657.5 407.5,658.4 410.0,658.0 412.5,657.5 415.0,659.1 417.5,657.9 420.0,657.8" fill="none" stroke="#48dcfc" stroke-width="1.7" stroke-linejoin="round" stroke-linecap="round" />
<polyline points="100.5,651.6 103.1,651.3 105.8,650.9 108.4,650.6 111.0,650.2 113.7,649.9 116.3,649.5 118.9,649.2 121.6,648.8 124.2,648.5 126.8,647.6 129.5,646.6 132.1,645.7 134.7,644.8 137.4,643.8 140.0,642.9 142.5,641.8 145.0,640.7 147.4,639.6 149.9,638.5 152.4,637.4 154.9,636.3 157.4,634.0 159.9,635.5 162.3,634.2 164.8,631.3 167.3,631.5 169.7,630.7 172.2,630.7 174.7,630.6 177.1,627.4 179.6,626.5 182.1,628.2 184.6,625.6 187.0,625.5 189.5,621.6 192.3,621.5 195.0,620.9 197.8,617.4 200.0,618.4 202.2,616.6 204.4,611.8 205.7,609.3 206.9,608.7 208.2,607.7 209.4,603.2 211.0,600.4 212.7,598.9 214.3,595.3 217.0,594.4 219.8,593.4 222.5,591.8 225.0,589.1 227.0,586.6 229.0,584.1 231.2,583.4 233.5,581.3 236.0,578.5 239.0,578.9 241.5,576.8 244.5,576.7 247.0,575.6 250.0,580.2 252.0,580.7 255.0,582.0 256.5,585.1 258.0,588.7 259.8,590.9 261.7,593.8 263.5,594.4 265.3,597.6 267.2,599.4 269.0,600.7 270.8,604.0 272.7,607.3 274.5,609.7 276.3,611.5 278.2,614.3 280.0,615.6 282.5,618.0 285.0,621.2 287.5,622.8 290.0,624.7 292.0,627.2 294.0,629.2 296.1,630.8 298.1,631.7 300.1,633.5 302.6,634.9 305.1,636.8 307.7,637.4 310.2,638.3 312.7,639.3 315.2,639.0 317.8,639.8 320.3,642.1 322.8,643.5 325.4,643.4 327.9,643.7 330.4,643.9 332.9,645.5 335.4,647.4 338.0,647.6 340.5,647.8 343.0,649.1 345.5,648.1 348.0,649.2 350.5,650.8 353.0,650.4 355.6,650.6 358.1,650.6 360.6,651.8 363.1,653.3 365.6,651.6 368.2,654.0 370.7,654.6 373.2,655.0 375.8,654.9 378.3,655.3 380.8,654.8 383.3,655.3 385.9,655.4 388.4,654.9 390.9,657.3 393.6,656.7 396.3,655.9 398.9,656.7 401.6,656.8 404.3,656.6 407.0,656.6 409.5,657.3 412.0,657.6 414.5,657.8 417.0,657.5 419.5,656.7 422.0,657.3 424.5,657.4 427.0,658.5 429.5,659.2 432.0,658.3 434.5,658.3 437.0,658.3 439.5,658.3 442.0,658.3 444.5,658.3 447.0,658.4 449.5,658.4 452.0,658.4 454.6,658.4 457.1,658.4 459.6,658.4 462.1,658.4 464.6,658.4 467.1,658.4 469.6,658.4 472.1,658.4 474.6,658.4 477.1,658.4 479.6,658.5 482.1,658.5 484.6,658.5 487.1,658.5 489.6,658.5 492.1,658.5 494.6,658.5 497.1,658.5 499.6,658.5 502.1,658.5 504.6,658.5 507.2,658.5 509.7,658.5 512.2,658.5 514.7,658.5 517.2,658.6 519.7,658.6 522.2,658.6 524.7,658.6 527.2,658.6 529.7,658.6 532.2,658.6" fill="none" stroke="#000000" stroke-width="1.75" stroke-linejoin="round" stroke-linecap="round" />
<rect x="100.5" y="384.5" width="432.0" height="313.9" fill="none" stroke="#585858" stroke-width="1"/>
<path d="M100.50 698.4V690.9M100.50 384.5V392.0M154.50 698.4V694.5M154.50 384.5V388.4M208.50 698.4V690.9M208.50 384.5V392.0M262.50 698.4V694.5M262.50 384.5V388.4M316.50 698.4V690.9M316.50 384.5V392.0M370.50 698.4V694.5M370.50 384.5V388.4M424.50 698.4V690.9M424.50 384.5V392.0M478.50 698.4V694.5M478.50 384.5V388.4M532.50 698.4V690.9M532.50 384.5V392.0" stroke="#585858" stroke-width="1" fill="none"/>
<path d="M100.5 698.40H104.4M532.5 698.40H528.6M100.5 659.16H108.0M532.5 659.16H525.0M100.5 619.92H104.4M532.5 619.92H528.6M100.5 580.69H108.0M532.5 580.69H525.0M100.5 541.45H104.4M532.5 541.45H528.6M100.5 502.21H108.0M532.5 502.21H525.0M100.5 462.98H104.4M532.5 462.98H528.6M100.5 423.74H108.0M532.5 423.74H525.0M100.5 384.50H104.4M532.5 384.50H528.6" stroke="#585858" stroke-width="1" fill="none"/>
<text x="100.5" y="722.8" font-size="22.3" fill="#000" text-anchor="middle" font-family="Liberation Serif, serif" >14</text>
<text x="208.5" y="722.8" font-size="22.3" fill="#000" text-anchor="middle" font-family="Liberation Serif, serif" >15</text>
<text x="316.5" y="722.8" font-size="22.3" fill="#000" text-anchor="middle" font-family="Liberation Serif, serif" >16</text>
<text x="424.5" y="722.8" font-size="22.3" fill="#000" text-anchor="middle" font-family="Liberation Serif, serif" >17</text>
<text x="532.5" y="722.8" font-size="22.3" fill="#000" text-anchor="middle" font-family="Liberation Serif, serif" >18</text>
<text x="90.3" y="664.4" font-size="22.3" fill="#000" text-anchor="end" font-family="Liberation Serif, serif" >0</text>
<text x="90.3" y="585.9" font-size="22.3" fill="#000" text-anchor="end" font-family="Liberation Serif, serif" >20</text>
<text x="90.3" y="507.4" font-size="22.3" fill="#000" text-anchor="end" font-family="Liberation Serif, serif" >40</text>
<text x="90.3" y="428.9" font-size="22.3" fill="#000" text-anchor="end" font-family="Liberation Serif, serif" >60</text>
<text x="291.5" y="750.6" font-size="28" fill="#000" text-anchor="start" font-family="Liberation Serif, serif" ><tspan font-style="italic">T</tspan> (K)</text>
<g transform="translate(31.0,656.5) rotate(-90)" font-family="Liberation Serif, serif"><text x="-15.7" y="0" font-size="28" font-style="italic" stroke="#000" stroke-width="0.75">&#916;</text><text x="-0.5" y="0" font-size="28" font-style="italic" stroke="#000" stroke-width="0.75">C</text><text x="19.1" y="6.7" font-size="18.5" font-style="italic">p</text><text x="23" y="-17" font-size="19.6" font-style="italic">mag</text><path d="M55.9 0.3L67.3 -19.3" stroke="#000" stroke-width="2.6" fill="none"/><text x="63.8" y="0" font-size="28" font-style="italic" stroke="#000" stroke-width="0.75">T</text><text x="86.0" y="0" font-size="29.4" stroke="#000" stroke-width="0.3">(mJ/mol K<tspan font-size="18.5" dy="-16.5">2</tspan><tspan dy="16.5">)</tspan></text></g>
<text transform="translate(110.9,601.8) skewX(-15)" font-size="24" font-family="Liberation Serif, serif">&#956;</text>
<text x="125.5" y="609.7" font-size="17.3" fill="#000" text-anchor="start" font-family="Liberation Serif, serif" >0</text>
<text x="134.1" y="601.8" font-size="21.9" fill="#000" text-anchor="start" font-family="Liberation Serif, serif" ><tspan font-style="italic">H</tspan> = 0 T</text>
<text x="196.5" y="584.0" font-size="21.4" fill="#48dcfc" text-anchor="start" font-family="Liberation Serif, serif" >2 T</text>
<text x="221.0" y="565.8" font-size="21.4" fill="#f0107f" text-anchor="start" font-family="Liberation Serif, serif" >3 T</text>
<text x="240.3" y="546.8" font-size="21.4" fill="#0a0acd" text-anchor="start" font-family="Liberation Serif, serif" >4 T</text>
<text x="263.8" y="528.0" font-size="21.4" fill="#ff840c" text-anchor="start" font-family="Liberation Serif, serif" >5 T</text>
<text x="282.5" y="506.5" font-size="21.4" fill="#cf6a8a" text-anchor="start" font-family="Liberation Serif, serif" >6 T</text>
<text x="305.5" y="485.0" font-size="21.4" fill="#44a4ff" text-anchor="start" font-family="Liberation Serif, serif" >8 T</text>
<text x="326.0" y="461.8" font-size="21.4" fill="#7a0808" text-anchor="start" font-family="Liberation Serif, serif" >10 T</text>
<text x="352.2" y="439.3" font-size="21.4" fill="#28f528" text-anchor="start" font-family="Liberation Serif, serif" >12 T</text>
<text x="376.8" y="418.4" font-size="21.4" fill="#ff0808" text-anchor="start" font-family="Liberation Serif, serif" >14 T</text>
<text x="475.4" y="432.8" font-size="33" fill="#000" text-anchor="start" font-family="Liberation Serif, serif" >b)</text>
</svg>
</body></html>
